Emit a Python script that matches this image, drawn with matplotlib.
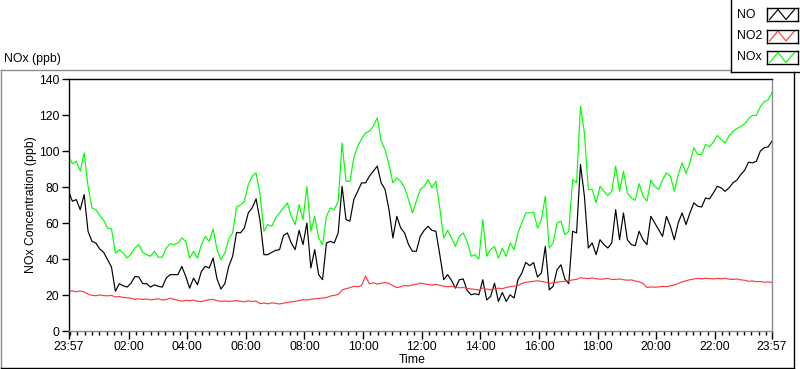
import numpy as np
import matplotlib
matplotlib.use('Agg')
import matplotlib.pyplot as plt
import matplotlib.dates as mdates
from matplotlib.lines import Line2D

plt.rcParams['font.family'] = ['Liberation Sans', 'DejaVu Sans']

# ---------------- data (sampled every 8 minutes from 23:57) ----------------
start_time = '2020-01-01T23:57'
step_minutes = 8

NO = [77.6, 72.1, 73.0, 67.4, 75.8, 55.4, 49.8, 48.9, 45.6, 43.7, 39.6, 35.5, 22.0, 26.3, 25.1,
      24.4, 26.6, 30.3, 30.0, 26.3, 26.3, 24.4, 25.7, 24.8, 24.4, 29.4, 31.3, 31.3, 31.3, 35.9,
      30.3, 23.8, 29.4, 25.7, 33.1, 35.9, 35.0, 40.5, 28.9, 23.3, 26.3, 35.9, 41.5, 54.8, 54.5,
      57.2, 65.6, 68.4, 73.4, 61.5, 42.4, 42.4, 43.7, 44.8, 45.2, 53.0, 54.5, 48.9, 45.2, 55.9,
      48.0, 60.0, 35.0, 45.2, 31.3, 28.5, 48.9, 49.8, 48.9, 54.5, 80.4, 61.9, 61.0, 73.0, 77.6,
      82.3, 82.3, 86.0, 88.8, 91.6, 82.3, 78.6, 67.4, 51.7, 63.7, 57.2, 54.5, 48.0, 44.3, 44.3,
      52.6, 55.9, 58.2, 55.9, 55.4, 42.4, 28.5, 31.3, 28.1, 23.8, 28.5, 28.9, 22.5, 20.1, 20.7,
      20.1, 28.5, 17.3, 19.2, 26.6, 16.4, 21.4, 16.4, 20.1, 18.3, 28.5, 32.2, 38.1, 36.3, 38.0, 30.0,
      32.2, 47.0, 22.9, 24.8, 34.0, 36.8, 28.9, 26.3, 55.4, 54.5, 92.5, 74.9, 46.1, 48.9, 42.4,
      50.7, 48.0, 46.1, 48.9, 67.4, 50.7, 65.6, 50.7, 48.0, 47.4, 55.4, 50.7, 48.0, 63.7, 60.0,
      56.3, 52.6, 63.7, 58.2, 50.7, 60.0, 65.6, 59.1, 65.6, 71.2, 69.3, 68.9, 73.9, 73.4, 76.7,
      80.4, 79.5, 77.6, 79.5, 82.3, 83.8, 86.9, 89.3, 93.8, 93.4, 94.3, 99.9, 101.8, 102.3, 105.5]

NO2 = [22.0, 22.3, 21.8, 22.2, 21.7, 20.5, 19.8, 19.6, 20.0, 19.7, 19.5, 19.8, 18.9, 19.2, 18.6,
       18.4, 18.2, 17.6, 17.9, 17.5, 17.8, 17.3, 17.6, 17.9, 17.2, 17.5, 18.2, 17.6, 17.1, 16.6,
       17.1, 16.8, 17.2, 16.5, 16.3, 16.9, 17.4, 17.6, 16.8, 16.5, 16.7, 16.4, 16.6, 16.9, 16.5,
       16.2, 16.8, 16.4, 16.6, 15.2, 15.5, 15.1, 15.6, 15.4, 15.0, 15.5, 15.8, 16.2, 16.5, 16.9,
       17.4, 17.2, 17.6, 17.9, 18.1, 18.3, 18.6, 19.4, 19.8, 20.3, 22.8, 23.5, 24.1, 24.8, 24.6,
       25.3, 30.5, 26.2, 26.8, 26.1, 26.5, 27.0, 26.4, 25.2, 24.1, 24.6, 25.3, 25.0, 25.6, 25.9,
       26.6, 26.2, 25.8, 25.5, 25.9, 25.4, 24.9, 24.6, 24.8, 24.3, 24.0, 24.2, 23.6, 23.4, 23.1,
       22.8, 23.9, 23.2, 22.9, 23.4, 23.8, 23.5, 24.2, 24.6, 24.9, 25.3, 26.4, 27.1, 27.3, 27.6, 27.9,
       27.5, 27.2, 26.4, 26.8, 27.1, 27.4, 27.6, 27.9, 28.4, 28.7, 29.6, 29.3, 29.1, 29.5, 29.0,
       28.8, 28.9, 29.2, 28.6, 28.7, 28.9, 28.5, 28.2, 28.4, 27.8, 27.3, 26.4, 24.2, 24.5, 24.3,
       24.5, 24.8, 24.6, 25.1, 25.6, 26.4, 27.3, 27.9, 28.5, 28.9, 29.2, 29.0, 29.3, 29.1, 28.9,
       29.2, 29.0, 29.3, 28.8, 28.6, 28.9, 28.4, 28.2, 27.6, 27.8, 27.4, 27.5, 27.1, 27.3, 26.9]

NOx = [97.0, 93.0, 94.3, 88.8, 99.0, 80.4, 68.4, 67.4, 64.1, 61.5, 57.2, 56.7, 43.3, 45.2, 43.3,
       40.6, 42.8, 46.1, 48.0, 43.7, 42.4, 41.5, 44.3, 40.9, 41.1, 46.1, 48.5, 48.0, 48.9, 51.7,
       49.8, 40.5, 44.3, 40.5, 48.0, 52.6, 49.8, 56.7, 45.2, 39.6, 43.3, 51.1, 54.5, 69.0, 70.0,
       72.0, 81.3, 86.0, 87.8, 75.8, 55.4, 59.1, 58.2, 62.8, 65.6, 68.4, 71.2, 63.7, 59.1, 70.2,
       61.8, 80.4, 55.4, 63.7, 51.7, 48.0, 63.7, 68.4, 67.4, 72.1, 104.5, 83.2, 83.2, 96.2, 102.7,
       106.8, 110.1, 111.0, 113.8, 118.5, 105.5, 100.8, 92.5, 82.3, 85.1, 83.2, 79.5, 73.0, 65.6, 72.1,
       78.6, 80.4, 84.1, 79.5, 83.2, 68.4, 51.7, 55.9, 51.7, 47.0, 52.6, 54.5, 49.8, 41.5, 42.4,
       40.0, 61.9, 41.5, 45.2, 47.0, 40.5, 46.1, 41.5, 48.9, 45.2, 54.5, 60.0, 65.6, 65.6, 66.0, 57.2,
       61.9, 74.9, 46.1, 48.9, 60.0, 61.0, 53.5, 55.4, 84.1, 82.3, 125.0, 110.1, 78.6, 78.6, 71.2,
       80.4, 77.6, 75.2, 77.6, 91.6, 77.6, 88.8, 76.7, 73.9, 72.6, 81.9, 74.9, 72.1, 83.8, 80.4,
       78.6, 84.1, 87.9, 86.0, 77.6, 86.9, 93.4, 87.5, 93.4, 101.8, 98.1, 98.1, 103.6, 102.3, 104.9,
       108.6, 106.4, 104.5, 108.3, 111.0, 112.3, 113.8, 115.1, 117.9, 119.8, 119.8, 124.6, 127.4, 128.3, 132.4]

series_names = ['NO', 'NO2', 'NOx']
series_colors = ['#000000', '#ff3c3c', '#00ff00']

x_tick_labels = ['23:57', '02:00', '04:00', '06:00', '08:00', '10:00', '12:00',
                 '14:00', '16:00', '18:00', '20:00', '22:00', '23:57']
y_ticks = [0, 20, 40, 60, 80, 100, 120, 140]

FS = 8.8

# ---------------- build times ----------------
t0 = np.datetime64(start_time)
times = t0 + np.arange(len(NO)) * np.timedelta64(step_minutes, 'm')
t_end = times[-1]
tick_times = [t0] + [np.datetime64('2020-01-02T%s' % lab) for lab in x_tick_labels[1:-1]] + [t_end]
tick_nums = mdates.date2num([t.astype('datetime64[ms]').astype(object) for t in tick_times])

W, H = 800, 369
fig = plt.figure(figsize=(W / 100, H / 100), dpi=100)
fig.patch.set_facecolor('white')

def fx(px):
    return px / W

def fy(py):
    return 1 - py / H

ax = fig.add_axes([fx(68.5), fy(331), fx(772) - fx(68.5), fy(79) - fy(331)])

for vals, col in zip([NO, NO2, NOx], series_colors):
    ax.plot(times, vals, color=col, lw=0.85)

ax.set_xlim(t0, t_end)
ax.set_ylim(0, 140)
ax.set_yticks(y_ticks)
ax.set_yticklabels([str(v) for v in y_ticks])
ax.set_xticks(tick_nums)
ax.set_xticklabels(x_tick_labels)
ax.xaxis.set_minor_locator(mdates.MinuteLocator(byminute=[0, 15, 30, 45]))

for s in ['left', 'top']:
    ax.spines[s].set_color('black')
    ax.spines[s].set_linewidth(1.0)
for s in ['right', 'bottom']:
    ax.spines[s].set_color('#8c8c8c')
    ax.spines[s].set_linewidth(1.0)

ax.tick_params(axis='y', direction='out', length=5, width=1, pad=1.5, labelsize=FS, colors='black')
ax.tick_params(axis='x', which='major', direction='out', length=6, width=1, pad=1.2, labelsize=FS)
ax.tick_params(axis='x', which='minor', direction='out', length=3, width=1)

# labels
fig.text(fx(31), fy(205), 'NOx Concentration (ppb)', rotation=90, ha='center', va='center', fontsize=FS)
fig.text(fx(412), fy(360), 'Time', ha='center', va='center', fontsize=FS)
fig.text(fx(4), fy(59), 'NOx (ppb)', ha='left', va='center', fontsize=FS)

# outer frame
def fline(x0, y0, x1, y1, color, lw=1.0):
    fig.add_artist(Line2D([fx(x0), fx(x1)], [fy(y0), fy(y1)], color=color, lw=lw,
                          transform=fig.transFigure))

fline(1, 69.5, 730.5, 69.5, '#8c8c8c')
fline(1, 69.5, 1, 367.5, '#8c8c8c')
fline(1, 367.5, 793.5, 367.5, 'black')
fline(793.5, 72, 793.5, 367.5, 'black')

# legend box
fline(730.5, 0, 730.5, 72, 'black')
fline(730.5, 72, 800, 72, 'black')

centers = [14.5, 36, 57.5]
for name, col, c in zip(series_names, series_colors, centers):
    fig.text(fx(736.5), fy(c), name, ha='left', va='center', fontsize=FS)
    sax = fig.add_axes([fx(766.5), fy(c + 6.5), fx(797.5) - fx(766.5), fy(c - 6.5) - fy(c + 6.5)])
    sax.plot([0.1, 0.37, 0.63, 0.9], [0.12, 0.88, 0.12, 0.88], color=col, lw=0.85)
    sax.set_xlim(0, 1)
    sax.set_ylim(0, 1)
    sax.set_xticks([])
    sax.set_yticks([])
    for s in sax.spines.values():
        s.set_color('black')
        s.set_linewidth(1.0)

fig.savefig('out.png', dpi=100, facecolor='white')
